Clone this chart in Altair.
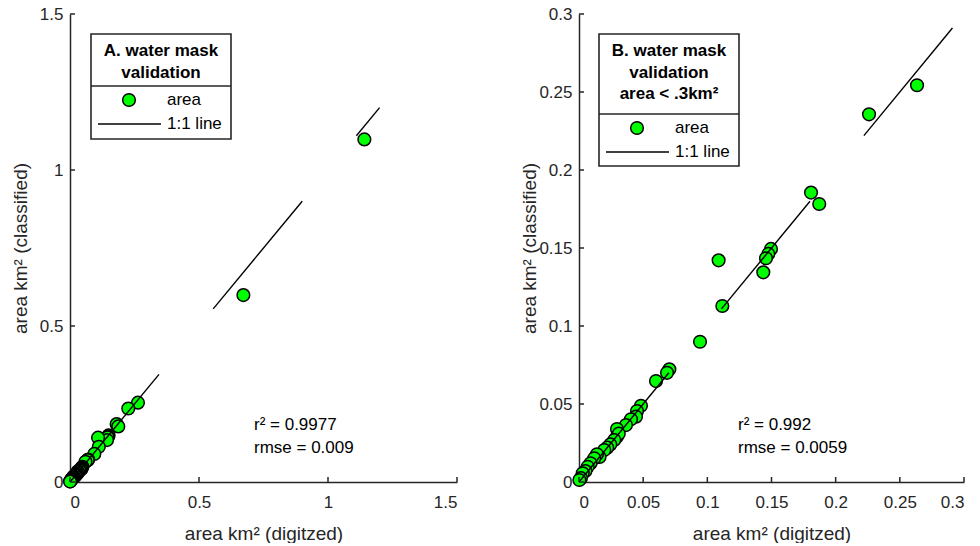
import altair as alt
import pandas as pd

# ---- data ----
digitized = [1.141, 0.672, 0.2634, 0.226, 0.1808, 0.1872, 0.1496, 0.1475, 0.1457, 0.1436,
             0.1088, 0.1117, 0.0943, 0.0704, 0.0686, 0.0600, 0.0483, 0.0452, 0.0444, 0.0405,
             0.0366, 0.0296, 0.0296, 0.0310, 0.0275, 0.0244, 0.0220, 0.0197, 0.0160, 0.0140,
             0.0119, 0.0090, 0.0068, 0.0050, 0.0029, 0.0015, 0.0003]
classified = [1.098, 0.599, 0.2543, 0.2357, 0.1855, 0.1782, 0.1494, 0.1462, 0.1434, 0.1344,
              0.1421, 0.1128, 0.0899, 0.0722, 0.0700, 0.0647, 0.0489, 0.0455, 0.0419, 0.0402,
              0.0365, 0.0340, 0.0290, 0.0310, 0.0269, 0.0241, 0.0220, 0.0205, 0.0160, 0.0178,
              0.0152, 0.0120, 0.0098, 0.0070, 0.0056, 0.0025, 0.0013]

# 1:1 line segments (start, end)
seg_a_start = [0.0, 0.555, 1.11]
seg_a_end = [0.345, 0.90, 1.20]
seg_b_start = [0.0, 0.111, 0.222]
seg_b_end = [0.070, 0.180, 0.291]

ticks_a = [0, 0.5, 1, 1.5]
ticks_b = [0, 0.05, 0.1, 0.15, 0.2, 0.25, 0.3]

title_a = ["A. water mask", "validation"]
title_b = ["B. water mask", "validation", "area < .3km²"]
stats_a = ["r² = 0.9977", "rmse = 0.009"]
stats_b = ["r² = 0.992", "rmse = 0.0059"]

FONT = "Liberation Sans"
AX = "#262626"
H = 468
MSIZE = 160

pts = pd.DataFrame({"x": digitized, "y": classified})


def panel(df, dmax, ticks, seg_s, seg_e, W, titles, stats, box, stat_x):
    xs = alt.Scale(domain=[0, dmax], nice=False, zero=True)
    ys = alt.Scale(domain=[0, dmax], nice=False, zero=True)
    xaxis = alt.Axis(values=ticks, format="~g", title="area km² (digitzed)",
                     titleY=51, titleX=W / 2, titleBaseline="middle", titleAlign="center",
                     labelPadding=12)
    yaxis = alt.Axis(values=ticks, format="~g", title="area km² (classified)",
                     titleX=-50, titleY=H / 2, titleBaseline="middle", titleAlign="center",
                     labelPadding=7)
    points = alt.Chart(df).mark_point(
        filled=True, fill="#00ff00", stroke="black", strokeWidth=1.5, size=MSIZE, opacity=1
    ).encode(x=alt.X("x:Q", scale=xs, axis=xaxis), y=alt.Y("y:Q", scale=ys, axis=yaxis))

    segs = pd.DataFrame({"s": seg_s, "e": seg_e})
    line = alt.Chart(segs).mark_rule(color="black", strokeWidth=1.4).encode(
        x=alt.X("s:Q", scale=xs), y=alt.Y("s:Q", scale=ys), x2="e:Q", y2="e:Q")

    tdf = pd.DataFrame({"t": ticks})
    tx = alt.Chart(tdf).mark_rule(color=AX, strokeWidth=1.5).encode(
        x=alt.X("t:Q", scale=xs), y=alt.value(H), y2=alt.value(H - 5))
    ty = alt.Chart(tdf).mark_rule(color=AX, strokeWidth=1.5).encode(
        y=alt.Y("t:Q", scale=ys), x=alt.value(0), x2=alt.value(5))

    one = alt.Data(values=[{"a": 1}])
    bx1, bx2, by1, by2, ydiv = box
    rect = alt.Chart(one).mark_rect(fill="white", stroke=AX, strokeWidth=1.6).encode(
        x=alt.value(bx1), x2=alt.value(bx2), y=alt.value(by1), y2=alt.value(by2))
    div = alt.Chart(one).mark_rule(color=AX, strokeWidth=1.6).encode(
        x=alt.value(bx1), x2=alt.value(bx2), y=alt.value(ydiv))
    cx = (bx1 + bx2) / 2
    layers = [points, line, tx, ty, rect, div]
    for i, t in enumerate(titles):
        layers.append(alt.Chart(one).mark_text(
            text=t, font=FONT, fontSize=17, fontWeight="bold", color="black",
            align="center", baseline="middle").encode(
            x=alt.value(cx), y=alt.value(by1 + 17 + 21.5 * i)))
    my = ydiv + 14
    ly = ydiv + 38
    layers.append(alt.Chart(one).mark_point(
        filled=True, fill="#00ff00", stroke="black", strokeWidth=1.5, size=MSIZE, opacity=1
    ).encode(x=alt.value(bx1 + 38), y=alt.value(my)))
    layers.append(alt.Chart(one).mark_rule(color="black", strokeWidth=1.4).encode(
        x=alt.value(bx1 + 7), x2=alt.value(bx1 + 70), y=alt.value(ly)))
    layers.append(alt.Chart(one).mark_text(
        text="area", font=FONT, fontSize=17, color="black", align="left",
        baseline="middle").encode(x=alt.value(bx1 + 76), y=alt.value(my)))
    layers.append(alt.Chart(one).mark_text(
        text="1:1 line", font=FONT, fontSize=17, color="black", align="left",
        baseline="middle").encode(x=alt.value(bx1 + 76), y=alt.value(ly)))
    for i, s in enumerate(stats):
        layers.append(alt.Chart(one).mark_text(
            text=s, font=FONT, fontSize=17, color="black", align="left",
            baseline="middle").encode(x=alt.value(stat_x), y=alt.value(411 + 23 * i)))
    return alt.layer(*layers).properties(width=W, height=H)


left = panel(pts, 1.5, ticks_a, seg_a_start, seg_a_end, 387, title_a, stats_a,
             (21, 161, 20, 125, 72), 184)
right = panel(pts[pts.x < 0.3], 0.3, ticks_b, seg_b_start, seg_b_end, 385, title_b, stats_b,
              (20, 160, 20, 152, 100), 159)

chart = alt.hconcat(left, right, spacing=62).properties(
    padding={"left": 11, "top": 5, "right": 0, "bottom": 0}
).configure_view(stroke=None).configure_axis(
    grid=False, ticks=False, domainColor=AX, domainWidth=1.5,
    labelFont=FONT, labelFontSize=17, labelColor=AX,
    titleFont=FONT, titleFontSize=19, titleFontWeight="normal", titleColor=AX,
)

chart.save("out.html", embed_options={"renderer": "svg", "actions": False})
